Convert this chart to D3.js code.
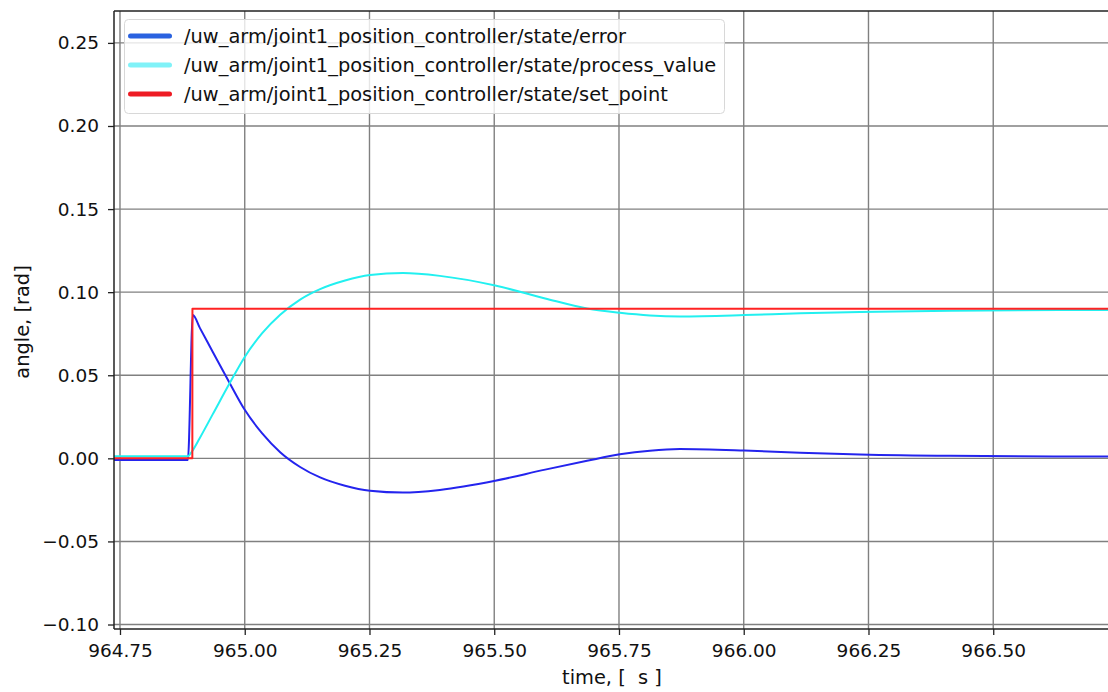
<!DOCTYPE html>
<html>
<head>
<meta charset="utf-8">
<script src="https://cdn.jsdelivr.net/npm/d3@7"></script>
<style>
  html, body { margin: 0; padding: 0; background: #fff; }
  svg { display: block; font-family: "DejaVu Sans", sans-serif; }
</style>
</head>
<body>
<svg id="chart" width="1108" height="692"></svg>
<script>
// Joint 1 position controller step response (time in s, angle in rad)
const errorTime  = [964.738, 964.886, 964.896, 964.910, 964.936, 964.970, 965.000, 965.035, 965.071, 965.111, 965.151, 965.201, 965.251, 965.317, 965.391, 965.502, 965.602, 965.686, 965.752, 965.812, 965.872, 966.001, 966.113, 966.233, 966.414, 966.732];
const errorValue = [-0.0010, -0.0010, 0.0862, 0.0785, 0.0640, 0.0452, 0.0292, 0.0150, 0.0037, -0.0052, -0.0115, -0.0165, -0.0195, -0.0206, -0.0190, -0.0135, -0.0068, -0.0015, 0.0024, 0.0046, 0.0056, 0.0047, 0.0034, 0.0023, 0.0015, 0.0011];

const processTime  = [964.738, 964.886, 964.892, 964.910, 964.936, 964.970, 965.000, 965.035, 965.071, 965.111, 965.151, 965.201, 965.251, 965.317, 965.391, 965.502, 965.602, 965.686, 965.752, 965.812, 965.872, 966.001, 966.113, 966.233, 966.414, 966.732];
const processValue = [0.0012, 0.0012, 0.0032, 0.0123, 0.0266, 0.0453, 0.0610, 0.0753, 0.0864, 0.0955, 0.1018, 0.1070, 0.1103, 0.1115, 0.1098, 0.1040, 0.0962, 0.0902, 0.0876, 0.0860, 0.0854, 0.0862, 0.0873, 0.0881, 0.0888, 0.0893];

const setPointTime  = [964.738, 964.895, 964.8952, 966.732];
const setPointValue = [0.0, 0.0, 0.09, 0.09];

const xTicks = [964.75, 965.00, 965.25, 965.50, 965.75, 966.00, 966.25, 966.50];
const yTicks = [-0.10, -0.05, 0.00, 0.05, 0.10, 0.15, 0.20, 0.25];

const seriesNames = [
  "/uw_arm/joint1_position_controller/state/error",
  "/uw_arm/joint1_position_controller/state/process_value",
  "/uw_arm/joint1_position_controller/state/set_point"
];
const lineColors   = ["#2424ee", "#22f0f0", "#ff2222"];
const legendColors = ["#2a62e0", "#80f2f8", "#ee1c24"];

const svg = d3.select("#chart");
const plotLeft = 114, plotRight = 1109, plotTop = 11, plotBottom = 629;

const x = d3.scaleLinear().domain([964.738, 966.732]).range([plotLeft, plotRight]);
const y = d3.scaleLinear().domain([-0.1027, 0.2692]).range([plotBottom, plotTop]);

svg.append("defs").append("clipPath").attr("id", "plotClip")
  .append("rect").attr("x", plotLeft).attr("y", plotTop)
  .attr("width", plotRight - plotLeft).attr("height", plotBottom - plotTop);

// grid
const grid = svg.append("g").attr("stroke", "#808080").attr("stroke-width", 1.4);
grid.selectAll("line.gx").data(xTicks).join("line")
  .attr("x1", d => x(d)).attr("x2", d => x(d)).attr("y1", plotTop).attr("y2", plotBottom);
grid.selectAll("line.gy").data(yTicks).join("line")
  .attr("x1", plotLeft).attr("x2", plotRight).attr("y1", d => y(d)).attr("y2", d => y(d));

// series
const makeLine = (ts, vs) => d3.line()
  .x((d, i) => x(ts[i])).y(d => y(d))
  .curve(d3.curveMonotoneX)(vs);

const plot = svg.append("g").attr("clip-path", "url(#plotClip)").attr("fill", "none")
  .attr("stroke-width", 2).attr("stroke-linejoin", "round");
plot.append("path").attr("d", makeLine(errorTime, errorValue)).attr("stroke", lineColors[0]);
plot.append("path").attr("d", makeLine(processTime, processValue)).attr("stroke", lineColors[1]);
plot.append("path").attr("d", d3.line().x((d, i) => x(setPointTime[i])).y(d => y(d))(setPointValue))
  .attr("stroke", lineColors[2]);

// axes
const fmt = v => d3.format(".2f")(v).replace("-", "\u2212");
const xAxis = svg.append("g").attr("transform", `translate(0,${plotBottom})`)
  .call(d3.axisBottom(x).tickValues(xTicks).tickFormat(d3.format(".2f")).tickSize(6).tickSizeOuter(0));
const yAxis = svg.append("g").attr("transform", `translate(${plotLeft},0)`)
  .call(d3.axisLeft(y).tickValues(yTicks).tickFormat(fmt).tickSize(6).tickSizeOuter(0));
[xAxis, yAxis].forEach(a => {
  a.select(".domain").remove();
  a.selectAll(".tick line").attr("stroke", "#222").attr("stroke-width", 1.3);
  a.selectAll(".tick text").attr("fill", "#111").style("font-size", "18.5px").style("font-family", "DejaVu Sans");
});
xAxis.selectAll(".tick text").attr("dy", 0).attr("y", 28);
yAxis.selectAll(".tick text").attr("x", -15);

// spines
const spine = svg.append("g").attr("stroke", "#222").attr("stroke-width", 1.5);
spine.append("line").attr("x1", plotLeft).attr("x2", plotLeft).attr("y1", plotTop).attr("y2", plotBottom);
spine.append("line").attr("x1", plotLeft).attr("x2", plotRight).attr("y1", plotBottom).attr("y2", plotBottom);
spine.append("line").attr("x1", plotLeft).attr("x2", plotRight).attr("y1", plotTop).attr("y2", plotTop);
spine.append("line").attr("x1", plotRight).attr("x2", plotRight).attr("y1", plotTop).attr("y2", plotBottom);

// axis titles
svg.append("text").attr("x", 612).attr("y", 684).attr("text-anchor", "middle")
  .attr("xml:space", "preserve").style("white-space", "pre")
  .style("font-size", "19.4px").attr("fill", "#111").text("time, [  s ]");
svg.append("text").attr("transform", "translate(29,322) rotate(-90)").attr("text-anchor", "middle")
  .style("font-size", "19.4px").attr("fill", "#111").text("angle, [rad]");

// legend
const legend = svg.append("g");
legend.append("rect").attr("x", 124.5).attr("y", 19.5).attr("width", 600).attr("height", 94).attr("rx", 4)
  .attr("fill", "#fff").attr("fill-opacity", 0.8).attr("stroke", "#d8d8d8").attr("stroke-width", 1);
seriesNames.forEach((name, i) => {
  const cy = 36 + i * 29;
  legend.append("line").attr("x1", 130.5).attr("x2", 169.5).attr("y1", cy).attr("y2", cy)
    .attr("stroke", legendColors[i]).attr("stroke-width", 5).attr("stroke-linecap", "round");
  legend.append("text").attr("x", 184).attr("y", cy + 7).style("font-size", "19.4px").attr("fill", "#111").text(name);
});
</script>
</body>
</html>
